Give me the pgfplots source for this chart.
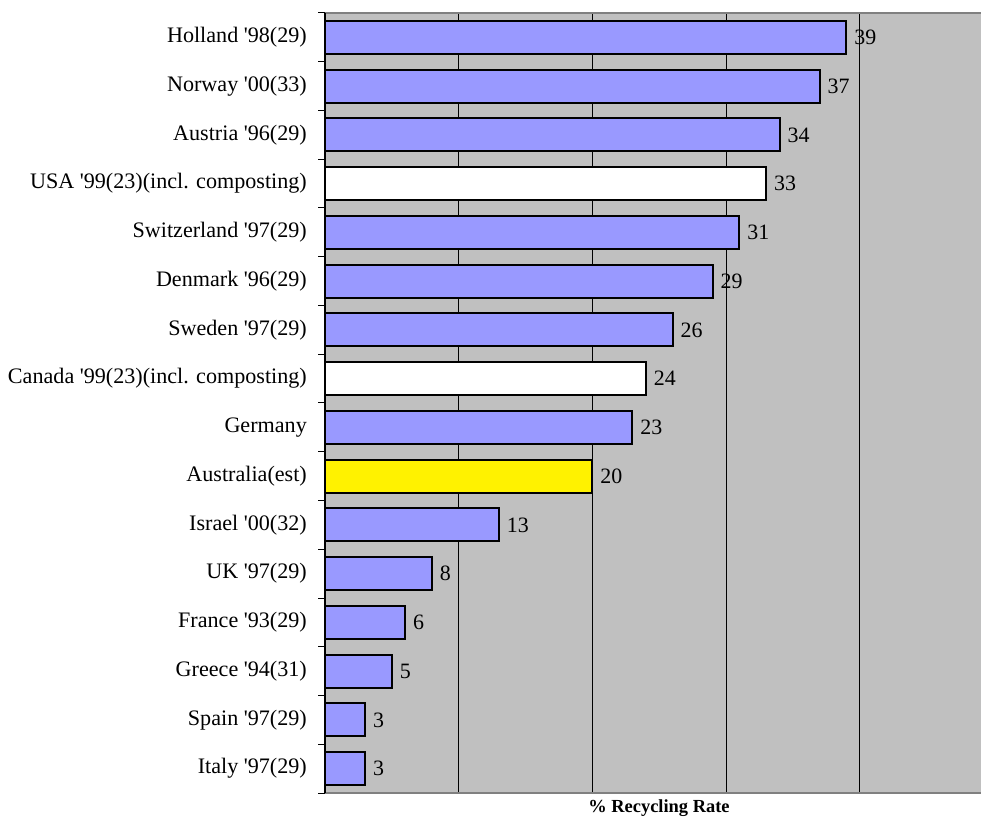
\documentclass[border=0pt]{standalone}
\usepackage{pgfplots}
\pgfplotsset{compat=1.18}
\usepackage{fontspec}
\setmainfont{Liberation Serif}

\definecolor{barblue}{RGB}{153,153,255}
\definecolor{plotgray}{RGB}{192,192,192}
\definecolor{axisgray}{RGB}{128,128,128}
\newcommand{\q}{\textquotesingle}

\begin{document}
\begin{tikzpicture}[x=1bp,y=1bp]
\path[use as bounding box] (0,0) rectangle (981,817);
\begin{axis}[
  at={(325bp,24bp)}, anchor=south west,
  scale only axis, width=656bp, height=780bp,
  xbar, bar width=33bp, bar shift=0pt,
  xmin=0, xmax=49.07,
  ymin=-0.5, ymax=15.5, y dir=reverse,
  axis background/.style={fill=plotgray},
  axis line style={draw=none},
  xtick={10,20,30,40}, xticklabels={},
  xmajorgrids, grid style={black, line width=1.1bp},
  ytick={0,...,15},
  yticklabels={Holland \q98(29), Norway \q00(33), Austria \q96(29),
    USA \q99(23)(incl. composting), Switzerland \q97(29), Denmark \q96(29),
    Sweden \q97(29), Canada \q99(23)(incl. composting), Germany,
    Australia(est), Israel \q00(32), UK \q97(29), France \q93(29),
    Greece \q94(31), Spain \q97(29), Italy \q97(29)},
  minor ytick={-0.5,0.5,...,15.5},
  major tick length=0pt, minor tick length=7bp,
  tick align=outside,
  minor tick style={black, line width=1bp},
  yticklabel style={font=\fontsize{22.2}{26}\selectfont, inner sep=0pt, xshift=-18bp},
  /pgf/number format/assume math mode=true,
  nodes near coords,
  nodes near coords style={font=\fontsize{22}{26}\selectfont, anchor=west, inner sep=0pt, xshift=7bp},
  every axis plot/.append style={draw=black, line width=2bp},
  clip=false,
]
% recycling rates (%), blue bars
\addplot[fill=barblue] coordinates {
  (39,0) (37,1) (34,2) (31,4) (29,5) (26,6) (23,8)
  (13,10) (8,11) (6,12) (5,13) (3,14) (3,15)};
% rates that include composting
\addplot[fill=white] coordinates {(33,3) (24,7)};
% estimate
\addplot[fill=yellow] coordinates {(20,9)};
% frame
\draw[axisgray, line width=1.2bp] (rel axis cs:0,1) -- (rel axis cs:1,1);
\draw[axisgray, line width=2.2bp] (rel axis cs:0,0) -- (rel axis cs:1,0);
\draw[black, line width=1.2bp] (rel axis cs:0,0) -- (rel axis cs:0,1);
\end{axis}
\node[anchor=base, font=\fontsize{18.5}{22}\bfseries\selectfont] at (659,4.5) {\% Recycling Rate};
\end{tikzpicture}
\end{document}
